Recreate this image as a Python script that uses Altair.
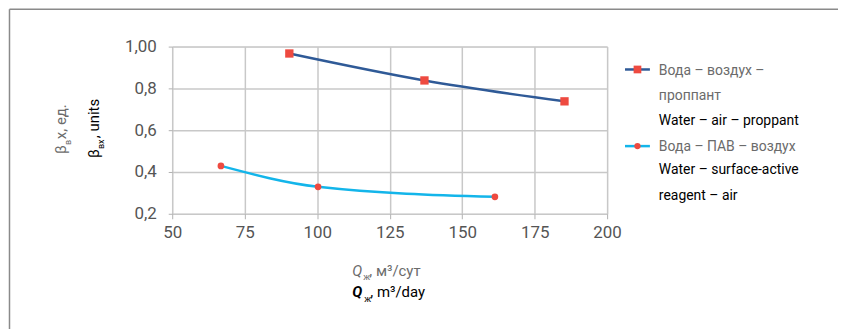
import altair as alt
import pandas as pd

# ---- data ----
series_names = ["Вода – воздух – проппант", "Вода – ПАВ – воздух"]
q1 = [90.4, 137.0, 185.3]
b1 = [0.967, 0.838, 0.738]
q2 = [66.8, 100.3, 161.3]
b2 = [0.429, 0.329, 0.281]
x_ticks = [50, 75, 100, 125, 150, 175, 200]
y_ticks = [0.2, 0.4, 0.6, 0.8, 1.0]

df = pd.DataFrame({
    "series": [series_names[0]] * len(q1) + [series_names[1]] * len(q2),
    "q": q1 + q2,
    "b": b1 + b2,
})

FONT = "Roboto, 'Liberation Sans', sans-serif"
GRAY_T = "#6b6b6b"
DARK = "#2f5a97"
LIGHT = "#13b5ea"
RED = "#ee4a40"

# plot area origin on page
OX, OY = 173, 46
W, H = 437, 168

xs = alt.Scale(domain=[50, 200], nice=False, zero=False)
ys = alt.Scale(domain=[0.2, 1.0], nice=False, zero=False)
cs = alt.Scale(domain=series_names, range=[DARK, LIGHT])

xax = alt.Axis(values=x_ticks, title=None, grid=True, gridColor="#c8c8c8", gridWidth=1.5,
               domain=False, tickColor="#b0b0b0", tickSize=5, labelPadding=6, labelFlush=False,
               labelFont=FONT, labelFontSize=17, labelColor="#555555")
yax = alt.Axis(values=y_ticks, title=None, grid=True, gridColor="#c8c8c8", gridWidth=1.5,
               domain=False, tickColor="#b0b0b0", tickSize=4, labelPadding=12, labelFlush=False,
               labelFont=FONT, labelFontSize=17, labelColor="#555555",
               labelExpr="datum.value == 1 ? '1,00' : replace(format(datum.value, '.1f'), '.', ',')")

base = alt.Chart(df)
lines = base.mark_line(interpolate="monotone", strokeWidth=2.5).encode(
    x=alt.X("q:Q", scale=xs, axis=xax),
    y=alt.Y("b:Q", scale=ys, axis=yax),
    color=alt.Color("series:N", scale=cs, legend=None),
    detail="series:N",
)
pts = base.mark_point(filled=True, opacity=1, color=RED).encode(
    x="q:Q", y="b:Q",
    shape=alt.Shape("series:N", scale=alt.Scale(domain=series_names, range=["square", "circle"]), legend=None),
    size=alt.Size("series:N", scale=alt.Scale(domain=series_names, range=[70, 45]), legend=None),
)

one = pd.DataFrame({"a": [0]})


def txt(text, px, py, size=14, color="black", angle=0, align="left", baseline="alphabetic",
        style="normal", weight="normal"):
    return alt.Chart(one).mark_text(text=text, fontSize=size, color=color, angle=angle, align=align,
                                    baseline=baseline, font=FONT, fontStyle=style, fontWeight=weight).encode(
        x=alt.value(px - OX), y=alt.value(py - OY))


def rule(px1, py1, px2, py2, color, width):
    if py1 == py2:
        enc = dict(x=alt.value(px1 - OX), x2=alt.value(px2 - OX), y=alt.value(py1 - OY))
    else:
        enc = dict(x=alt.value(px1 - OX), y=alt.value(py1 - OY), y2=alt.value(py2 - OY))
    return alt.Chart(one).mark_rule(color=color, strokeWidth=width).encode(**enc)


def marker(px, py, shape, size):
    return alt.Chart(one).mark_point(shape=shape, filled=True, opacity=1, color=RED, size=size).encode(
        x=alt.value(px - OX), y=alt.value(py - OY))


deco = [
    # frame
    rule(9.5, 8.5, 846, 8.5, "#8a8a8a", 1.5),
    rule(9.5, 8.5, 9.5, 333, "#8a8a8a", 1.5),
    # legend
    rule(628, 69, 653, 69, DARK, 2.5), marker(640.5, 69, "square", 60),
    rule(628, 146, 653, 146, LIGHT, 2.5), marker(640.5, 146, "circle", 40),
    txt("Вода – воздух –", 662, 75, color=GRAY_T),
    txt("проппант", 662, 100, color=GRAY_T),
    txt("Water – air – proppant", 662, 125),
    txt("Вода – ПАВ – воздух", 662, 151, color=GRAY_T),
    txt("Water – surface-active", 662, 174),
    txt("reagent – air", 662, 200),
    # x title
    txt("Q", 354, 277, size=15, color=GRAY_T, style="italic"),
    txt("ж", 365, 281, size=9, color=GRAY_T),
    txt(", м³/сут", 371, 277, size=15, color=GRAY_T),
    txt("Q", 354, 298, size=15, color="black", style="italic", weight="bold"),
    txt("ж", 366, 303, size=9, color="black"),
    txt(", m³/day", 372, 298, size=15, color="black"),
    # y title
    txt("β", 66, 154, size=15, color=GRAY_T, angle=270),
    txt("в", 71, 145, size=9, color=GRAY_T, angle=270),
    txt("х, ед.", 66, 139, size=15, color=GRAY_T, angle=270),
    txt("β", 99, 158, size=15, color="black", angle=270),
    txt("вх", 104, 149, size=9, color="black", angle=270),
    txt(", units", 99, 138, size=15, color="black", angle=270),
]

chart = alt.layer(lines, pts, *deco).properties(
    width=W, height=H,
    autosize=alt.AutoSizeParams(type="none"),
    padding={"left": OX - 8, "top": OY - 8, "right": 838 - (OX - 8) - W - 4, "bottom": 325 - (OY - 8) - H - 4},
).configure_view(stroke=None).configure(background="white")

chart.save("out.html", embed_options={"renderer": "svg", "actions": False})
